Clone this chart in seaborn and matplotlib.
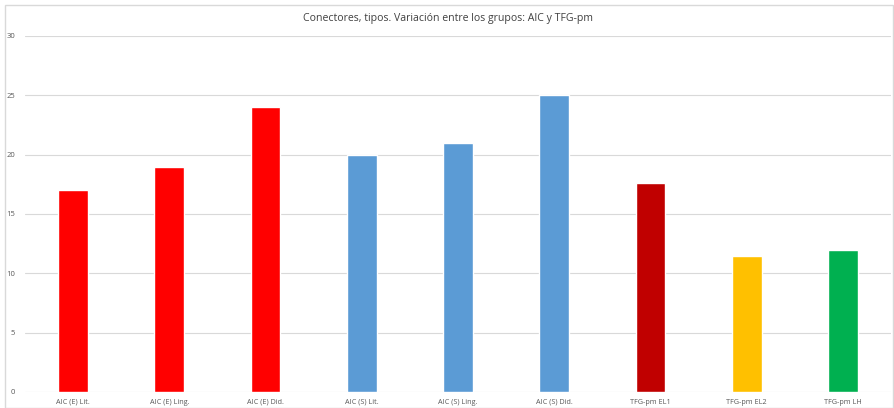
import matplotlib
matplotlib.use("Agg")
import matplotlib.pyplot as plt
import seaborn as sns
import pandas as pd
from matplotlib.patches import Rectangle

categories = ["AIC (E) Lit.", "AIC (E) Ling.", "AIC (E) Did.",
              "AIC (S) Lit.", "AIC (S) Ling.", "AIC (S) Did.",
              "TFG-pm EL1", "TFG-pm EL2", "TFG-pm LH"]
values = [17, 19, 24, 20, 21, 25, 17.6, 11.5, 12]
colors = ["#FF0000", "#FF0000", "#FF0000",
          "#5B9BD5", "#5B9BD5", "#5B9BD5",
          "#C00000", "#FFC000", "#00B050"]
yticks = [0, 5, 10, 15, 20, 25, 30]
title = "Conectores, tipos. Variación entre los grupos: AIC y TFG-pm"

sns.set_theme(style="white")
plt.rcParams['font.family'] = ['Open Sans', 'DejaVu Sans']

df = pd.DataFrame({"cat": categories, "val": values})

fig = plt.figure(figsize=(8.95, 4.08), dpi=100)
ax = fig.add_axes([25/895, 1-392/408, 866/895, (392-36)/408])
sns.barplot(data=df, x="cat", y="val", hue="cat", palette=colors,
            legend=False, width=0.31, ax=ax, saturation=1)

ax.set_ylim(0, 30)
ax.set_xlim(-0.5, len(categories)-0.5)
ax.set_yticks(yticks)
ax.set_yticklabels([str(t) for t in yticks], fontsize=5.5, color="#595959")
ax.tick_params(axis='x', labelsize=5.2, colors="#595959", length=0, pad=5)
ax.tick_params(axis='y', length=0, pad=7)
ax.set_xlabel("")
ax.set_ylabel("")
ax.yaxis.grid(True, color="#d9d9d9", linewidth=0.8)
ax.set_axisbelow(True)
for s in ax.spines.values():
    s.set_visible(False)

fig.text(448/895, 1-18/408, title, ha="center", va="center", fontsize=7.6, color="#404040")
fig.patches.append(Rectangle((5/895, 0), 888/895, 1-5/408, transform=fig.transFigure,
                             fill=False, edgecolor="#d9d9d9", linewidth=1))

fig.savefig("out.png", dpi=100)
